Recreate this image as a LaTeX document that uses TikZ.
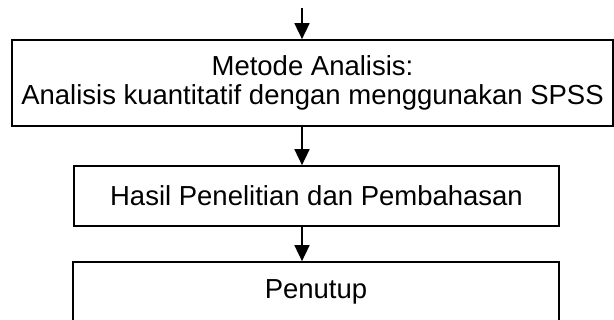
\documentclass[tikz,border=0pt]{standalone}
\usepackage{fontspec}
\setmainfont{Liberation Sans}
\usetikzlibrary{arrows.meta}
\begin{document}
\begin{tikzpicture}[x=1pt,y=-1pt,
  flowbox/.style={draw=black, line width=1.7pt, inner sep=0pt, align=center,
    font=\fontsize{27.5}{29}\selectfont},
  flowarrow/.style={line width=1.7pt, -{Triangle[length=16pt,width=15pt]}}]
  \useasboundingbox (0,0) rectangle (614,320);
  \clip (0,0) rectangle (614,320);
  \fill[white] (0,0) rectangle (614,320);

  % process boxes
  \node[flowbox, minimum width=601pt, minimum height=86pt] (analisis) at (312.5,83)
    {Metode Analisis:\\Analisis kuantitatif dengan menggunakan SPSS};
  \node[flowbox, minimum width=485pt, minimum height=60pt] (hasil) at (316.5,196)
    {Hasil Penelitian dan Pembahasan};
  \node[flowbox, minimum width=486pt, minimum height=60pt] (penutup) at (316,292)
    {Penutup};

  % arrows run down a common vertical line
  \coordinate (axis) at (302,0);
  \coordinate (start) at (302,8);
  \draw[flowarrow] (start) -- (analisis.north -| axis);
  \draw[flowarrow] (analisis.south -| axis) -- (hasil.north -| axis);
  \draw[flowarrow] (hasil.south -| axis) -- (penutup.north -| axis);
\end{tikzpicture}
\end{document}
